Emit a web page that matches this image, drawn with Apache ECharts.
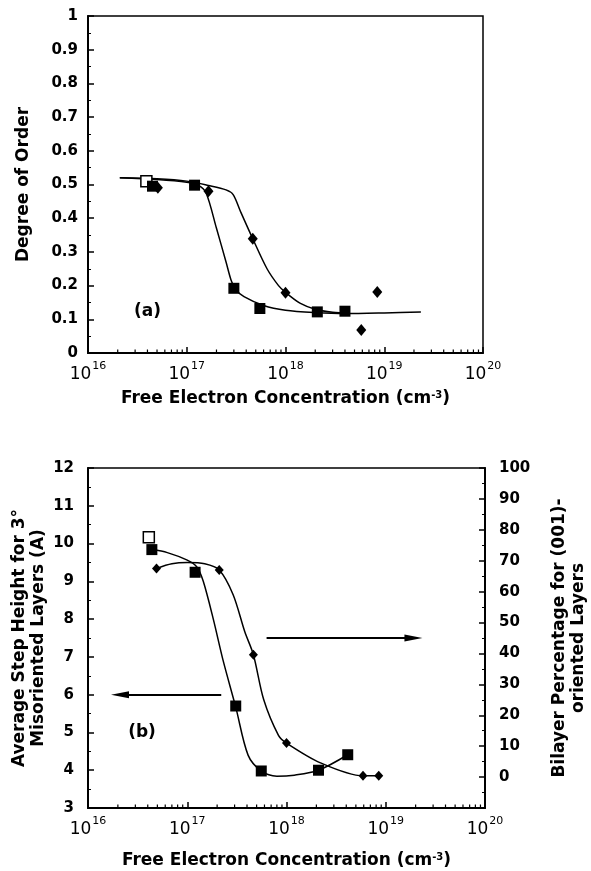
<!DOCTYPE html>
<html>
<head>
<meta charset="utf-8">
<script src="https://cdn.jsdelivr.net/npm/echarts@6/dist/echarts.min.js"></script>
<style>
html,body{margin:0;padding:0;background:#fff;}
#c{width:591px;height:871px;}
</style>
</head>
<body>
<div id="c"></div>
<script>
// ---------- data (a) ----------
const aSquareX = [4.5e16, 1.2e17, 3.0e17, 5.5e17, 2.1e18, 4.0e18];
const aSquareY = [0.495, 0.498, 0.192, 0.132, 0.122, 0.124];
const aOpenSquare = [[3.9e16, 0.51]];
const aDiamondX = [5.1e16, 1.66e17, 4.66e17, 1.0e18, 5.85e18, 8.5e18];
const aDiamondY = [0.49, 0.48, 0.339, 0.179, 0.068, 0.181];
const aSquareFit = [[2.1e16,0.52],[5e16,0.515],[1e17,0.507],[1.3e17,0.498],[1.57e17,0.475],[2e17,0.37],[2.5e17,0.27],[2.82e17,0.215],[3.1e17,0.19],[3.8e17,0.167],[6e17,0.141],[1e18,0.127],[2e18,0.12],[4e18,0.117],[1e19,0.119],[2.35e19,0.122]];
const aDiamondFit = [[2.1e16,0.52],[5e16,0.517],[1e17,0.51],[1.66e17,0.497],[2.5e17,0.484],[2.95e17,0.47],[3.5e17,0.42],[4.66e17,0.339],[6.5e17,0.25],[8.5e17,0.2],[1e18,0.18],[1.4e18,0.148],[2e18,0.13],[3e18,0.121],[4.5e18,0.118]];

// ---------- data (b) ----------
const bSquareX = [4.4e16, 1.2e17, 3.08e17, 5.57e17, 2.1e18, 4.14e18];
const bSquareY = [9.84, 9.24, 5.7, 3.98, 4.0, 4.41];
const bOpenSquare = [[4.1e16, 10.17]];
const bDiamondX = [4.9e16, 2.1e17, 4.64e17, 1.0e18, 5.9e18, 8.5e18];
const bDiamondY = [67.5, 67.0, 39.6, 11.0, 0.4, 0.4];
const bSquareFit = [[4.4e16,9.84],[6.3e16,9.76],[1e17,9.56],[1.25e17,9.38],[1.45e17,9.0],[1.83e17,8.0],[2.3e17,6.9],[3.08e17,5.67],[4.1e17,4.4],[5.57e17,3.98],[8e17,3.84],[1.2e18,3.87],[2.1e18,4.0],[4.14e18,4.41]];
const bDiamondFit = [[4.9e16,67.5],[7e16,69.0],[1e17,69.4],[1.5e17,69.0],[2.1e17,67.0],[2.9e17,59],[3.8e17,47],[4.64e17,39.6],[5.9e17,25],[8.3e17,13.5],[1e18,11.0],[2.2e18,4.6],[5.9e18,0.4],[8.5e18,0.4]];
const bArrowRight = [[6.3e17, 7.5], [1.9e19, 7.5]];
const bArrowLeft = [[2.2e17, 6.0], [2.1e16, 6.0]];

// ---------- axis ----------
const xMin = 1e16, xMax = 1e20;
const minorTickValues = [];
for (let e = 16; e < 20; e++) for (let m = 2; m <= 9; m++) minorTickValues.push(m * Math.pow(10, e));

const FONT = 'DejaVu Sans';
const zip = (xs, ys) => xs.map((x, i) => [x, ys[i]]);

function xAxisCfg(grid, gap) {
  return {
    type: 'log', logBase: 10, min: xMin, max: xMax, gridIndex: grid, splitNumber: 4,
    axisLine: {onZero: false, lineStyle: {color: '#000', width: 2}},
    axisTick: {inside: true, length: 6, lineStyle: {color: '#000', width: 1.5}},
    splitLine: {show: false},
    axisLabel: {
      margin: 8,
      formatter: v => '{b|10}{s|' + Math.round(Math.log10(v)) + '}',
      rich: {
        b: {fontFamily: FONT, fontSize: 17, color: '#000', lineHeight: 22, verticalAlign: 'bottom'},
        s: {fontFamily: FONT, fontSize: 11, color: '#000', lineHeight: 22, verticalAlign: 'top', padding: [0, 0, 0, 1]}
      }
    },
    name: 'Free Electron Concentration (cm{s|-3})',
    nameLocation: 'middle', nameGap: gap, nameMoveOverlap: false,
    nameTextStyle: {
      fontFamily: FONT, fontWeight: 'bold', fontSize: 17, color: '#000', verticalAlign: 'top',
      rich: {s: {fontFamily: FONT, fontWeight: 'bold', fontSize: 10, color: '#000', verticalAlign: 'top', lineHeight: 18}}
    }
  };
}
function yAxisCfg(o) {
  return Object.assign({
    type: 'value',
    axisLine: {show: true, onZero: false, lineStyle: {color: '#000', width: 2}},
    axisTick: {show: true, inside: true, length: 6, lineStyle: {color: '#000', width: 1.5}},
    minorTick: {show: true, splitNumber: 2, length: 3, lineStyle: {color: '#000', width: 1}},
    splitLine: {show: false},
    nameLocation: 'middle', nameRotate: 90, nameMoveOverlap: false,
    nameTextStyle: {fontFamily: FONT, fontWeight: 'bold', fontSize: 17, color: '#000', lineHeight: 19}
  }, o);
}
const yLabel = (margin, fmt) => ({fontFamily: FONT, fontWeight: 'bold', fontSize: 15, color: '#000', margin, formatter: fmt});
function minorTicksSeries(xi, yi, base) {
  return {
    type: 'custom', xAxisIndex: xi, yAxisIndex: yi, silent: true, z: 5,
    data: minorTickValues.map(v => [v, base]),
    renderItem: (params, api) => {
      const p = api.coord([api.value(0), api.value(1)]);
      return {type: 'line', shape: {x1: p[0], y1: p[1], x2: p[0], y2: p[1] - 3.5}, style: {stroke: '#000', lineWidth: 1.2}};
    }
  };
}
const fitLine = (data, xi, yi) => ({type: 'line', xAxisIndex: xi, yAxisIndex: yi, data, smooth: 0.3, showSymbol: false, symbol: 'none', lineStyle: {color: '#000', width: 1.5}, z: 3});
const marks = (data, xi, yi, sym, size, filled) => ({
  type: 'scatter', xAxisIndex: xi, yAxisIndex: yi, data, symbol: sym, symbolSize: size, z: filled ? 6 : 4,
  itemStyle: filled ? {color: '#000', opacity: 1} : {color: '#fff', borderColor: '#000', borderWidth: 1.5, opacity: 1}
});
const textMark = (txt, pt, xi, yi) => ({
  type: 'scatter', xAxisIndex: xi, yAxisIndex: yi, data: [pt], symbolSize: 0, silent: true,
  itemStyle: {opacity: 1},
  label: {show: true, position: 'inside', formatter: txt, fontFamily: FONT, fontWeight: 'bold', fontSize: 17, color: '#000'}
});

const chart = echarts.init(document.getElementById('c'), null, {renderer: 'canvas'});
chart.setOption({
  animation: false,
  backgroundColor: '#fff',
  grid: [
    {left: 88, top: 16, right: 108, bottom: 518, outerBoundsMode: 'none', containLabel: false, show: true, borderColor: '#000', borderWidth: 1.5, backgroundColor: 'transparent'},
    {left: 88, top: 468, right: 106, bottom: 63, outerBoundsMode: 'none', containLabel: false, show: true, borderColor: '#000', borderWidth: 1.5, backgroundColor: 'transparent'}
  ],
  xAxis: [xAxisCfg(0, 37), xAxisCfg(1, 44)],
  yAxis: [
    yAxisCfg({gridIndex: 0, min: 0, max: 1, interval: 0.1, name: 'Degree of Order', nameGap: 55,
      axisLabel: yLabel(10, v => String(+v.toFixed(1)))}),
    yAxisCfg({gridIndex: 1, min: 3, max: 12, interval: 1, name: 'Average Step Height for 3°\nMisoriented Layers (A)', nameGap: 40,
      axisLabel: yLabel(14, v => String(v))}),
    yAxisCfg({gridIndex: 1, position: 'right', min: -10, max: 100, interval: 10, name: 'Bilayer Percentage for (001)-\noriented Layers', nameGap: 65,
      axisLabel: yLabel(14, v => v < 0 ? '' : String(v))})
  ],
  series: [
    fitLine(aSquareFit, 0, 0),
    fitLine(aDiamondFit, 0, 0),
    marks(aOpenSquare, 0, 0, 'rect', 11, false),
    marks(zip(aSquareX, aSquareY), 0, 0, 'rect', 11, true),
    marks(zip(aDiamondX, aDiamondY), 0, 0, 'diamond', [10, 12], true),
    textMark('(a)', [4.0e16, 0.122], 0, 0),
    minorTicksSeries(0, 0, 0),

    Object.assign(fitLine(bSquareFit, 1, 1), {
      markLine: {
        silent: true, symbol: ['none', 'triangle'], symbolSize: [7, 18], label: {show: false},
        lineStyle: {color: '#000', width: 2, type: 'solid'},
        data: [
          [{coord: bArrowRight[0]}, {coord: bArrowRight[1]}],
          [{coord: bArrowLeft[0]}, {coord: bArrowLeft[1]}]
        ]
      }
    }),
    fitLine(bDiamondFit, 1, 2),
    marks(bOpenSquare, 1, 1, 'rect', 11, false),
    marks(zip(bSquareX, bSquareY), 1, 1, 'rect', 11, true),
    marks(zip(bDiamondX, bDiamondY), 1, 2, 'diamond', [9, 10], true),
    textMark('(b)', [3.5e16, 5.0], 1, 1),
    minorTicksSeries(1, 1, 3)
  ]
});
</script>
</body>
</html>
